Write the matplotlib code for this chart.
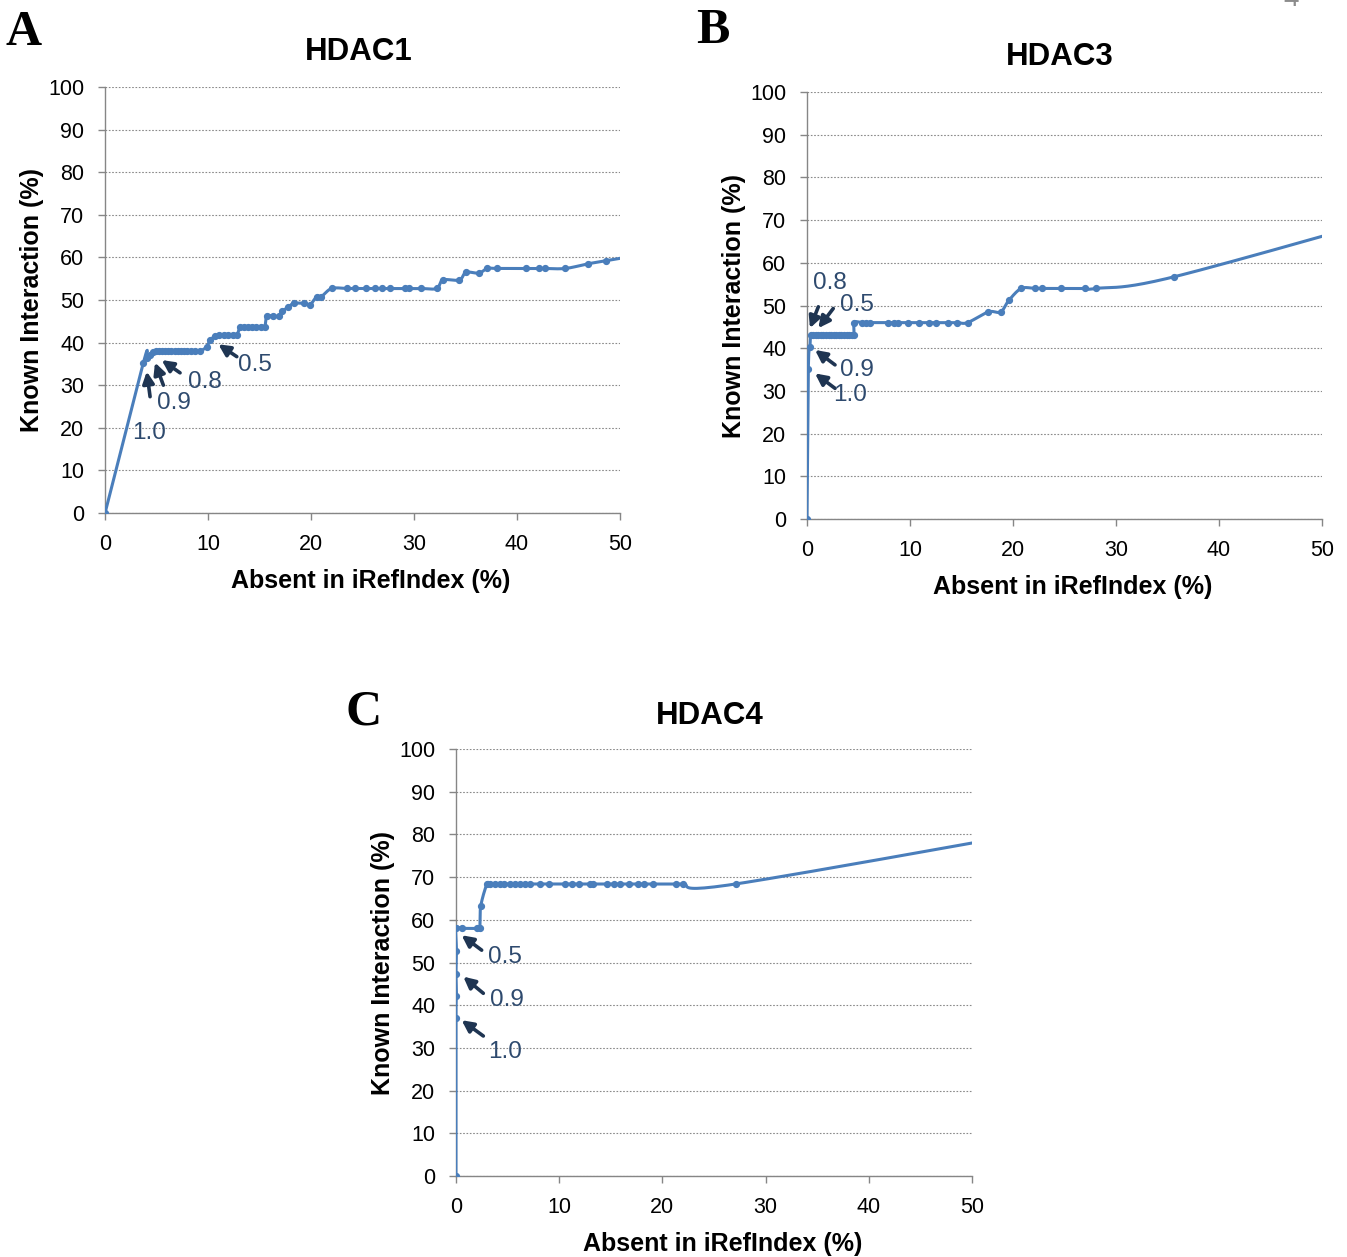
import numpy as np
import matplotlib
matplotlib.use("Agg")
import matplotlib.pyplot as plt

plt.rcParams['font.family'] = ['Liberation Sans', 'DejaVu Sans']

# ---------------- data ----------------
titles = ["HDAC1", "HDAC3", "HDAC4"]
letters = ["A", "B", "C"]

A_x = [0, 3.72, 4.05, 4.37, 4.69, 4.95, 5.25, 5.55, 5.85, 6.15, 6.45, 6.75, 7.05, 7.35, 7.65,
       7.95, 8.3, 8.7, 9.2, 9.87, 10.2, 10.7, 11.1, 11.5, 11.9, 12.4, 12.8, 13.1, 13.5, 13.9,
       14.3, 14.7, 15.1, 15.5, 15.7, 16.3, 16.9, 17.15, 17.8, 18.3, 19.3, 19.9, 20.55, 21.0,
       22.0, 23.5, 24.3, 25.3, 26.2, 26.9, 27.7, 29.1, 29.5, 30.7, 32.2, 32.8, 34.4, 35.05,
       36.3, 37.1, 38.1, 40.9, 42.1, 42.7, 44.7, 46.9, 48.6, 52.0]
A_y = [0, 35.3, 36.3, 37.1, 37.9, 38.0, 38.0, 38.0, 38.0, 38.0, 38.0, 38.0, 38.0, 38.0, 38.0,
       38.0, 38.0, 38.0, 38.0, 39.0, 40.6, 41.5, 41.8, 41.8, 41.8, 41.8, 41.8, 43.6, 43.6, 43.6,
       43.6, 43.6, 43.6, 43.6, 46.2, 46.2, 46.2, 47.3, 48.3, 49.2, 49.2, 48.9, 50.8, 50.8,
       52.7, 52.7, 52.7, 52.7, 52.7, 52.7, 52.7, 52.7, 52.7, 52.7, 52.7, 54.7, 54.7, 56.5,
       56.3, 57.4, 57.4, 57.4, 57.4, 57.4, 57.4, 58.5, 59.2, 60.6]

B_x = [0, 0.13, 0.29, 0.35, 0.6, 0.85, 1.1, 1.35, 1.6, 1.85, 2.1, 2.35, 2.6, 2.85, 3.1,
       3.35, 3.6, 3.85, 4.1, 4.35, 4.56, 4.6, 5.3, 5.7, 6.1, 7.9, 8.4, 8.8, 9.8, 10.9, 11.8,
       12.5, 13.7, 14.6, 15.6, 17.6, 18.8, 19.6, 20.8, 22.1, 22.8, 24.7, 27.0, 28.1, 35.6, 60.0]
B_y = [0, 35.1, 40.4, 43.1, 43.1, 43.1, 43.1, 43.1, 43.1, 43.1, 43.1, 43.1, 43.1, 43.1, 43.1,
       43.1, 43.1, 43.1, 43.1, 43.1, 43.1, 46.0, 46.0, 46.0, 46.0, 46.0, 46.0, 46.0, 46.0, 46.0, 46.0,
       46.0, 46.0, 46.0, 46.0, 48.5, 48.5, 51.2, 54.0, 54.0, 54.0, 54.0, 54.0, 54.0, 56.7, 73.0]

C_x = [0, 0, 0.05, 0, 0.05, 0, 0.55, 2.0, 2.3, 2.4, 3.0, 3.3, 3.8, 4.3, 4.7, 5.2, 5.7, 6.2,
       6.7, 7.2, 8.1, 9.0, 10.6, 11.2, 11.9, 13.0, 13.3, 14.6, 15.3, 15.9, 16.8, 17.6, 18.2,
       19.1, 21.3, 22.0, 27.1, 60.0]
C_y = [0, 36.9, 42.2, 47.3, 52.7, 58.0, 58.0, 58.0, 58.0, 63.2, 68.4, 68.4, 68.4, 68.4, 68.4,
       68.4, 68.4, 68.4, 68.4, 68.4, 68.4, 68.4, 68.4, 68.4, 68.4, 68.4, 68.4, 68.4, 68.4, 68.4,
       68.4, 68.4, 68.4, 68.4, 68.4, 68.4, 68.4, 82.3]

# annotations: (label, text xy, arrow tail, arrow head)
A_notes = [("1.0", (4.27, 18.8), (4.37, 27.3), (4.05, 33.2)),
           ("0.9", (6.7, 25.8), (5.66, 30.0), (4.85, 35.3)),
           ("0.8", (9.7, 30.8), (7.28, 32.9), (5.5, 35.9)),
           ("0.5", (14.56, 34.7), (12.79, 36.7), (11.0, 39.6))]
B_notes = [("0.8", (2.23, 55.2), (1.1, 49.7), (0.29, 44.7)),
           ("0.5", (4.82, 50.1), (2.55, 49.3), (1.1, 44.7)),
           ("0.9", (4.82, 34.9), (2.72, 36.1), (0.78, 39.6)),
           ("1.0", (4.17, 29.0), (2.72, 30.6), (0.78, 34.1))]
C_notes = [("0.5", (4.75, 51.3), (2.49, 52.9), (0.55, 56.4)),
           ("0.9", (4.94, 41.2), (2.65, 42.8), (0.71, 46.7)),
           ("1.0", (4.75, 29.0), (2.65, 32.8), (0.55, 36.5))]

x_ticks = [0, 10, 20, 30, 40, 50]
y_ticks = list(range(0, 101, 10))

LINE = '#4A7EBB'
ANN = '#1F3552'
TXT = '#2E4A6E'


def smooth(x, y, n=24):
    p = np.column_stack([x, y]).astype(float)
    p = np.vstack([p[0], p, p[-1]])
    out = []
    t = np.linspace(0, 1, n)[:, None]
    for i in range(1, len(p) - 2):
        p0, p1, p2, p3 = p[i - 1], p[i], p[i + 1], p[i + 2]
        seg = 0.5 * ((2 * p1) + (-p0 + p2) * t + (2 * p0 - 5 * p1 + 4 * p2 - p3) * t ** 2
                     + (-p0 + 3 * p1 - 3 * p2 + p3) * t ** 3)
        out.append(seg if i == 1 else seg[1:])
    s = np.vstack(out)
    return s[:, 0], s[:, 1]


fig = plt.figure(figsize=(13.47, 12.57), dpi=100)

panels = [
    (A_x, A_y, A_notes, [0.0780, 0.5919, 0.3823, 0.3389], (0.004, 0.992), (0.266, 0.959)),
    (B_x, B_y, B_notes, [0.5991, 0.5871, 0.3823, 0.3397], (0.5165, 0.9936), (0.787, 0.955)),
    (C_x, C_y, C_notes, [0.3385, 0.0644, 0.3831, 0.3397], (0.2565, 0.4511), (0.527, 0.430)),
]

for k, (xs, ys, notes, rect, lpos, tpos) in enumerate(panels):
    ax = fig.add_axes(rect)
    sx, sy = smooth(xs, ys)
    ax.plot(sx, sy, color=LINE, lw=2.2, solid_capstyle='round', zorder=3)
    ax.plot(xs, ys, 'o', color=LINE, ms=4.2, zorder=4)
    ax.set_xlim(0, 50)
    ax.set_ylim(0, 100)
    ax.set_xticks(x_ticks)
    ax.set_yticks(y_ticks)
    ax.yaxis.grid(True, linestyle=(0, (1.5, 1.5)), color='#8a8a8a', lw=0.8)
    ax.set_axisbelow(True)
    for s in ['top', 'right']:
        ax.spines[s].set_visible(False)
    for s in ['left', 'bottom']:
        ax.spines[s].set_color('#868686')
        ax.spines[s].set_linewidth(1.0)
    ax.tick_params(axis='both', colors='#868686', labelcolor='black', labelsize=15.5,
                   length=5, direction='out', width=1.0, pad=10)
    ax.set_xlabel("Absent in iRefIndex (%)", fontsize=18, fontweight='bold', labelpad=10)
    ax.xaxis.label.set_x(0.516)
    ax.set_ylabel("Known Interaction (%)", fontsize=18, fontweight='bold', labelpad=3)
    for lab, txy, tail, head in notes:
        ax.annotate("", xy=head, xytext=tail,
                    arrowprops=dict(arrowstyle='-|>', color=ANN, lw=2.6,
                                    mutation_scale=17, shrinkA=0, shrinkB=0), zorder=5)
        ax.text(txy[0], txy[1], lab, fontsize=17.5, color=TXT, ha='center', va='center', zorder=5)
    fig.text(lpos[0], lpos[1], letters[k], fontsize=36, fontweight='bold',
             family='Liberation Serif', ha='left', va='top')
    fig.text(tpos[0], tpos[1], titles[k], fontsize=22.5, fontweight='bold',
             ha='center', va='center')

# partially visible page number at the top edge of the source image
fig.text(0.9584, 0.9956, "4", fontsize=20, color='#8c8c8c', ha='center', va='baseline')

fig.savefig("out.png", dpi=100)
